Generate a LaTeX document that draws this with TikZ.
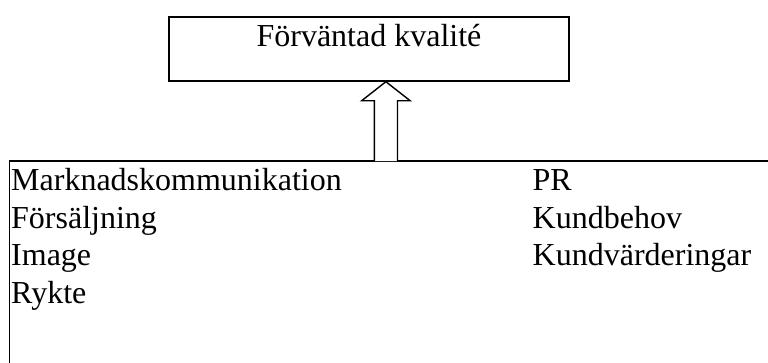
\documentclass[tikz,border=0pt]{standalone}
\usepackage{fontspec}
\setmainfont{Liberation Serif}
\begin{document}
\begin{tikzpicture}[x=1pt,y=-1pt,
  frame/.style={draw=black,line width=1.4pt,inner sep=0pt},
  txt/.style={inner sep=0pt,anchor=base west,font=\fontsize{32}{37}\selectfont},
  blockarrow/.style={draw=black,line width=1.4pt,fill=white,line join=miter}]
  \useasboundingbox (0,0) rectangle (768,362);
  \clip (0,0) rectangle (768,362);

  % upper box
  \node[frame,minimum width=400pt,minimum height=64pt] (top) at (369,49) {};
  \node[txt,anchor=base] (toptxt) at (369,46.7) {Förväntad kvalité};

  % lower box (runs past the page edges)
  \draw[line width=1.4pt] (9.5,420) coordinate (bl) -- (9.5,161) coordinate (tl) -- (820,161) coordinate (tr);

  % hollow block arrow from lower box up to the upper box
  \coordinate (tip) at (top.south -| 385.9,0);
  \draw[blockarrow] (374.3,161) -- (374.3,100.7) -- (361.7,100.7) -- (tip)
        -- (410.1,100.7) -- (397.5,100.7) -- (397.5,161);

  % left column
  \node[txt] (l1) at (11,190.5) {Marknadskommunikation};
  \node[txt] (l2) at (11,228.2) {Försäljning};
  \node[txt] (l3) at (11,265.9) {Image};
  \node[txt] (l4) at (11,303.6) {Rykte};

  % right column
  \node[txt] (r1) at (532.5,190.5) {PR};
  \node[txt] (r2) at (532.5,228.2) {Kundbehov};
  \node[txt] (r3) at (532.5,265.9) {Kundvärderingar};
\end{tikzpicture}
\end{document}
